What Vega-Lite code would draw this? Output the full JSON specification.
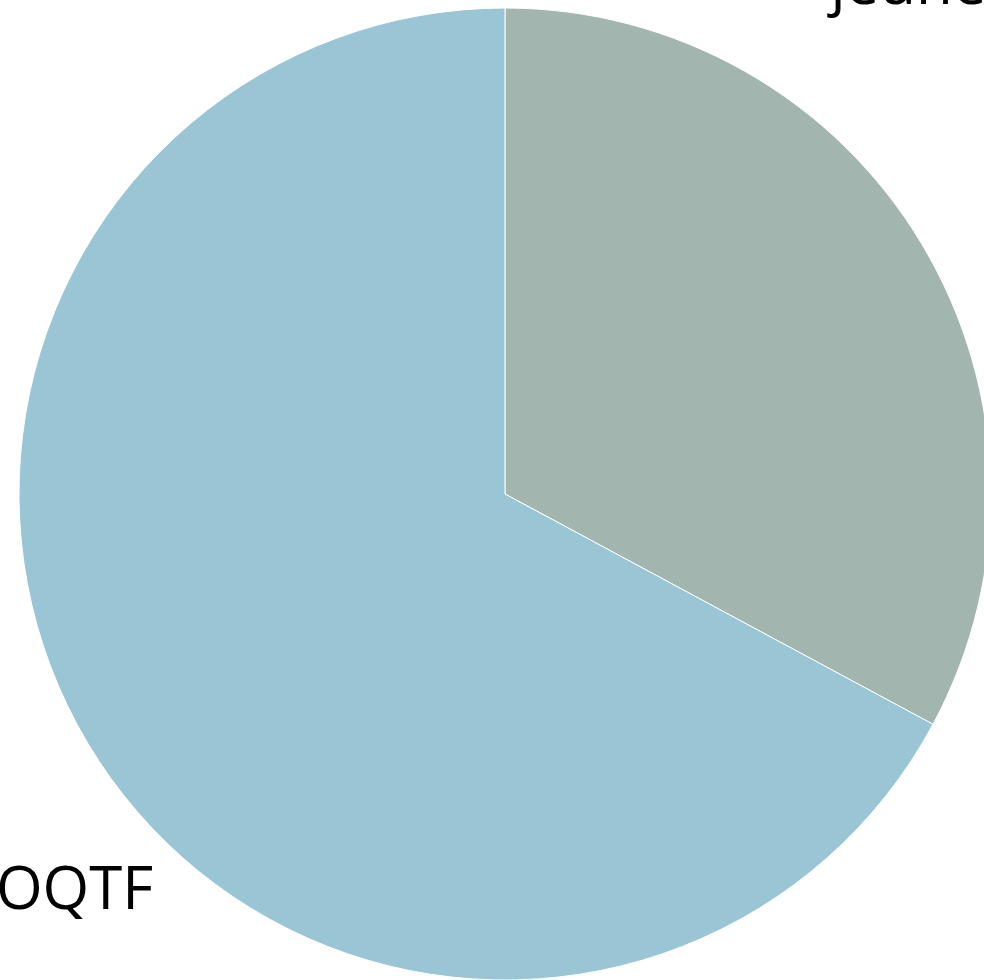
{
  "$schema": "https://vega.github.io/schema/vega-lite/v6.json",
  "width": 958,
  "height": 972,
  "autosize": {"type": "none"},
  "padding": {"left": 26, "top": 8, "right": 0, "bottom": 0},
  "background": "white",
  "view": {"stroke": null},
  "data": {"values": [
    {"category": "jeune majeur", "value": 23},
    {"category": "OQTF", "value": 47}
  ]},
  "encoding": {
    "theta": {"field": "value", "type": "quantitative", "stack": true},
    "order": {"field": "category", "type": "nominal", "sort": "descending"}
  },
  "layer": [
    {
      "mark": {"type": "arc", "outerRadius": 486, "stroke": "white", "strokeWidth": 1},
      "encoding": {
        "color": {"field": "category", "type": "nominal", "legend": null,
          "scale": {"domain": ["jeune majeur", "OQTF"], "range": ["#a2b5af", "#9ac5d4"]}}
      }
    },
    {
      "mark": {"type": "text", "radius": 520, "align": "center", "baseline": "alphabetic", "dx": 16, "dy": 148,
        "font": "Open Sans", "fontSize": 60, "color": "black"},
      "encoding": {
        "text": {"condition": {"test": "datum.category === 'OQTF'", "field": "category"}, "value": ""}
      }
    },
    {
      "mark": {"type": "text", "radius": 520, "align": "left", "baseline": "alphabetic", "dx": -121, "dy": -223,
        "font": "Open Sans", "fontSize": 60, "color": "black"},
      "encoding": {
        "text": {"condition": {"test": "datum.category === 'jeune majeur'", "field": "category"}, "value": ""}
      }
    }
  ]
}
